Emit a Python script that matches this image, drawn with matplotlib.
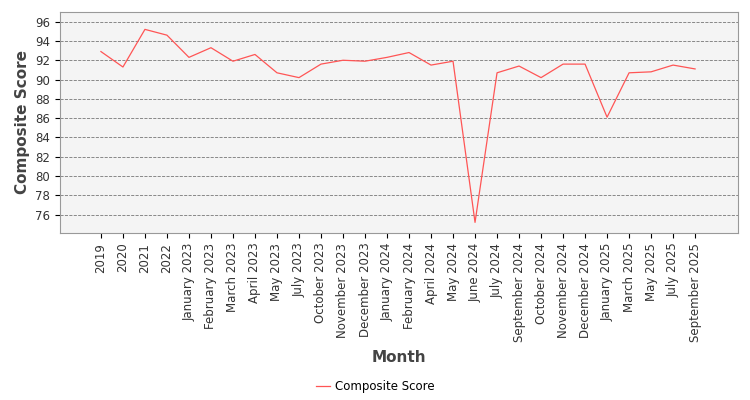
import matplotlib
matplotlib.use("Agg")
import matplotlib.pyplot as plt

months = ["2019","2020","2021","2022","January 2023","February 2023","March 2023","April 2023",
          "May 2023","July 2023","October 2023","November 2023","December 2023","January 2024",
          "February 2024","April 2024","May 2024","June 2024","July 2024","September 2024",
          "October 2024","November 2024","December 2024","January 2025","March 2025","May 2025",
          "July 2025","September 2025"]
scores = [92.9,91.3,95.2,94.6,92.3,93.3,91.9,92.6,90.7,90.2,91.6,92.0,91.9,92.3,92.8,91.5,91.9,
          75.2,90.7,91.4,90.2,91.6,91.6,86.1,90.7,90.8,91.5,91.1]

fig = plt.figure(figsize=(7.5,4), dpi=100)
ax = fig.add_axes([0.08, 0.4175, 0.904, 0.5525])
ax.set_facecolor("#f4f4f4")
x = list(range(len(months)))
ax.plot(x, scores, color="#ff5555", lw=0.9, label="Composite Score")
ax.set_xlim(-1.86, 28.95)
ax.set_ylim(74.1, 97.0)
ax.set_yticks(range(76, 97, 2))
ax.set_xticks(x)
ax.set_xticklabels(months, rotation=90, fontsize=8.5, color="#333333")
ax.tick_params(axis='y', labelsize=8.5, labelcolor="#333333")
ax.grid(axis='y', linestyle='--', color='#777777', lw=0.6)
for s in ax.spines.values():
    s.set_color("#999999")
ax.set_xlabel("Month", fontsize=11, fontweight='bold', color="#444444", labelpad=6)
ax.set_ylabel("Composite Score", fontsize=11, fontweight='bold', color="#444444")
fig.legend(loc='lower center', bbox_to_anchor=(0.5, -0.01), frameon=False, fontsize=8.5,
           handlelength=1.2, handletextpad=0.4)
fig.savefig("out.png")
